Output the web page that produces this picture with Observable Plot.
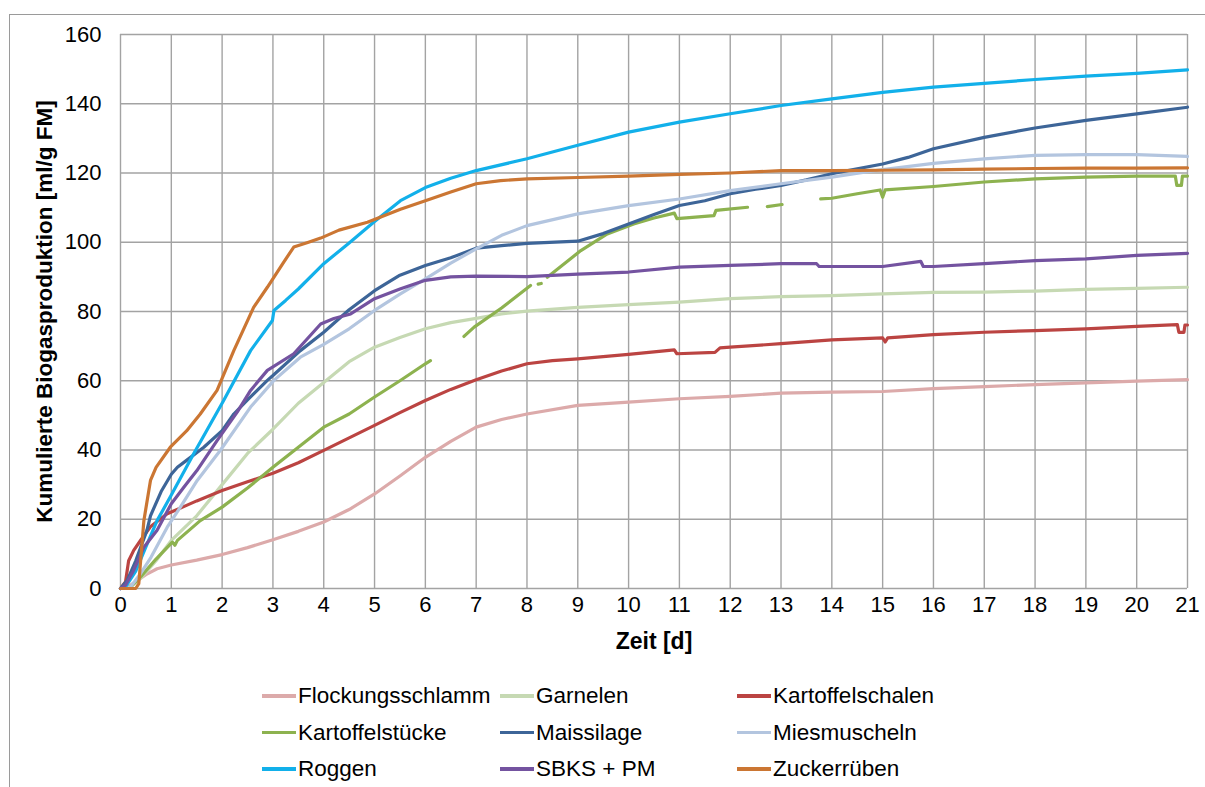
<!DOCTYPE html>
<html>
<head>
<meta charset="utf-8">
<script src="https://cdn.jsdelivr.net/npm/d3@7"></script>
<script src="https://cdn.jsdelivr.net/npm/@observablehq/plot@0.6"></script>
<style>
  html, body { margin: 0; padding: 0; background: #fff; overflow: hidden; }
  body { width: 1205px; height: 787px; position: relative; font-family: "Liberation Sans", Arial, sans-serif; }
  #frame { position: absolute; left: 9px; top: 14px; width: 1400px; height: 1000px; border: 1.5px solid #9a9a9a; box-sizing: border-box; }
  #chart { position: absolute; left: 0; top: 0; }
  #legend { position: absolute; left: 0; top: 660px; width: 1205px; height: 127px; }
  .item { position: absolute; display: flex; align-items: center; font-size: 22.5px; color: #000; white-space: nowrap; }
  .sw { width: 34px; height: 3.5px; margin-right: 2px; }
</style>
</head>
<body>
<div id="frame"></div>
<div id="chart"></div>
<div id="legend"></div>
<script>
// Cumulative biogas production per substrate, [day, ml/g FM]; null marks a gap in the record
const flockungsschlamm = [[0,0],[0.15,0.5],[0.3,2],[0.5,4],[0.72,5.7],[1,6.8],[1.5,8.2],[2,9.8],[2.5,11.8],[3,14.1],[3.5,16.5],[4,19.2],[4.5,22.8],[5,27.3],[5.5,32.5],[6,37.9],[6.5,42.5],[7,46.6],[7.5,48.8],[8,50.4],[9,52.9],[10,53.8],[11,54.8],[12,55.5],[13,56.4],[14,56.7],[15,56.9],[16,57.7],[17,58.3],[18,58.9],[19,59.4],[20,59.9],[21,60.3]];
const garnelen = [[0,0],[0.2,0.5],[0.4,3],[0.7,8],[1,13.9],[1.5,21],[2,30],[2.5,39],[3,46],[3.5,53.5],[4,59.5],[4.5,65.5],[5,69.7],[5.5,72.5],[6,75],[6.5,76.8],[7,78],[7.5,79.3],[8,80.1],[9,81.2],[10,82],[11,82.7],[12,83.7],[13,84.3],[14,84.6],[15,85.1],[16,85.5],[17,85.6],[18,85.9],[19,86.4],[20,86.7],[21,87]];
const kartoffelschalen = [[0,0],[0.1,2],[0.16,8],[0.26,11],[0.4,14],[0.6,18],[0.92,21.6],[1.3,24],[1.5,25.3],[2,28.3],[2.5,30.8],[3,33.3],[3.5,36.3],[4,39.9],[4.5,43.5],[5,47.1],[5.5,50.8],[6,54.3],[6.5,57.5],[7,60.3],[7.5,62.8],[8,64.9],[8.5,65.8],[9,66.3],[10,67.6],[10.9,68.9],[10.95,67.8],[11.7,68.2],[11.8,69.5],[12,69.7],[13,70.7],[14,71.8],[15,72.4],[15.05,71.2],[15.1,72.4],[16,73.3],[17,74],[18,74.5],[19,75],[20,75.7],[20.8,76.2],[20.83,74],[20.93,74],[20.95,76.1],[21,76.1]];
const kartoffelstuecke = [[0,0],[0.2,0.5],[0.39,3.3],[0.7,8.5],[1.02,13.4],[1.07,12.5],[1.12,13.9],[1.57,19.6],[2,23.5],[2.5,29],[3,35],[3.5,40.8],[4,46.6],[4.5,50.4],[5,55.3],[5.5,60],[6,64.9],[6.1,65.8],null,
  [6.76,72.8],[6.96,75.5],[7.5,81],[8.07,87.5],null,[8.22,87.9],[8.28,88.1],null,
  [8.4,89.9],[9.06,97.6],[9.58,102.4],[10.1,105.3],[10.5,107],[10.9,108.4],[10.95,106.8],[11.68,107.7],[11.72,109.2],[12.34,110.1],null,
  [12.73,110.3],[13.02,110.9],null,
  [13.78,112.5],[14,112.7],[14.5,114],[14.95,115.1],[15,113],[15.05,115.1],[16,116.1],[17,117.4],[18,118.3],[19,118.8],[20,119.1],[20.76,119.1],[20.79,116.4],[20.88,116.4],[20.9,119.1],[21,119.1]];
const maissilage = [[0,0],[0.13,2.3],[0.3,8],[0.52,16.8],[0.59,21],[0.8,28],[1,33],[1.12,35],[1.3,37],[1.64,40.8],[2,45.6],[2.23,50.4],[2.5,54.5],[2.89,60.1],[3,61.5],[3.54,68.7],[4,74],[4.5,80.5],[5,86],[5.5,90.5],[6,93.3],[6.5,95.5],[7,98.3],[7.5,99],[8,99.7],[9,100.3],[9.5,102.5],[10,105.3],[10.5,108],[11,110.6],[11.5,112],[12,114],[12.5,115.3],[13,116.4],[13.5,118],[14,119.8],[15,122.6],[15.5,124.5],[16,127],[17,130.3],[18,133],[19,135.2],[20,137.1],[21,139]];
const miesmuscheln = [[0,0],[0.2,0.5],[0.39,4.2],[0.6,9],[0.92,17.7],[1.2,24],[1.51,31.2],[1.97,40],[2.56,52.4],[3.02,60.1],[3.54,66.8],[4,70.5],[4.5,75],[5,80.3],[5.5,85],[6,89.4],[6.5,94],[7,98.1],[7.5,102],[8,104.8],[9,108.2],[10,110.6],[11,112.5],[12,114.9],[13,116.9],[14,118.8],[15,121],[16,122.8],[17,124.1],[18,125.1],[19,125.3],[20,125.3],[21,124.8]];
const roggen = [[0,0],[0.1,0.5],[0.3,5],[0.5,12],[0.72,19.6],[1,27],[1.44,38.9],[2.03,54.3],[2.56,68.7],[2.99,77.4],[3.02,80.3],[3.25,83.2],[3.5,86.5],[4,93.8],[4.5,99.8],[5,106],[5.51,112],[6,115.8],[6.5,118.5],[7,120.7],[8,124.1],[9,128],[10,131.8],[11,134.7],[12,137.1],[13,139.5],[14,141.4],[15,143.3],[16,144.8],[17,145.9],[18,147],[19,148],[20,148.8],[21,149.8]];
const sbksPm = [[0,0],[0.1,1],[0.25,5],[0.46,11.9],[0.72,16.8],[1,24.5],[1.25,29.3],[1.5,34],[1.9,42.7],[2.3,51],[2.56,57.2],[2.89,63],[3.41,67.8],[3.94,76.4],[4.2,78],[4.53,79.3],[5,83.7],[5.5,86.5],[6,89],[6.5,90],[7,90.2],[8,90.1],[9,90.8],[10,91.4],[11,92.8],[12,93.3],[13,93.8],[13.7,93.8],[13.75,93],[14,93],[15,93],[15.75,94.5],[15.8,93],[16,93],[17,93.8],[18,94.7],[19,95.2],[20,96.2],[21,96.8]];
const zuckerrueben = [[0,0],[0.3,0],[0.36,1.4],[0.46,19.6],[0.59,31.2],[0.7,35],[0.98,40.8],[1.3,45.5],[1.57,50.4],[1.9,57.2],[2.23,68.7],[2.62,81.2],[2.89,87],[3.2,94],[3.41,98.6],[3.7,100],[3.94,101.2],[4.3,103.5],[4.86,105.8],[5.51,109.5],[6,112],[6.5,114.5],[7,116.9],[7.48,117.8],[8,118.3],[9,118.7],[10,119.1],[11,119.6],[12,120],[13,120.7],[14,120.7],[15,120.8],[16,120.9],[17,121.1],[18,121.3],[19,121.4],[20,121.4],[21,121.5]];

const seriesNames = ["Flockungsschlamm", "Garnelen", "Kartoffelschalen", "Kartoffelstücke", "Maissilage", "Miesmuscheln", "Roggen", "SBKS + PM", "Zuckerrüben"];
const seriesValues = [flockungsschlamm, garnelen, kartoffelschalen, kartoffelstuecke, maissilage, miesmuscheln, roggen, sbksPm, zuckerrueben];
const seriesColors = ["#dcaaaa", "#c6d9b3", "#bb4442", "#8db24f", "#3d6598", "#b3c5df", "#12b0ea", "#7453a0", "#cb7633"];

const xTicks = d3.range(0, 22, 1);
const yTicks = d3.range(0, 161, 20);
const xLabel = "Zeit [d]";
const yLabel = "Kumulierte Biogasproduktion [ml/g FM]";

const font = "'Liberation Sans', Arial, sans-serif";
const gridColor = "#a3a3a3";

// one row per point; a null entry becomes an undefined value and breaks the line
const rows = seriesNames.map((name, i) =>
  seriesValues[i].map(p => p ? {name, day: p[0], value: p[1]} : {name, day: undefined, value: undefined})
);

const chart = Plot.plot({
  width: 1205,
  height: 660,
  marginLeft: 120,
  marginRight: 18,
  marginTop: 34,
  marginBottom: 72,
  style: {fontFamily: font, fontSize: "22px", color: "#000", background: "transparent", overflow: "visible"},
  x: {domain: [0, 21]},
  y: {domain: [0, 160]},
  marks: [
    Plot.gridX(xTicks, {stroke: gridColor, strokeOpacity: 1, strokeWidth: 1.4}),
    Plot.gridY(yTicks, {stroke: gridColor, strokeOpacity: 1, strokeWidth: 1.4}),
    Plot.axisX({ticks: xTicks, tickSize: 0, tickPadding: 8, label: null, fontSize: 22}),
    Plot.axisY({ticks: yTicks, tickSize: 0, tickPadding: 19, label: null, fontSize: 22}),
    ...rows.map((data, i) => Plot.line(data, {
      x: "day", y: "value", stroke: seriesColors[i], strokeWidth: 3.2, curve: "linear"
    })),
    Plot.text([xLabel], {frameAnchor: "bottom", dy: 60, fontWeight: "bold", fontSize: 23, fill: "#000", textAnchor: "middle"}),
    Plot.text([yLabel], {frameAnchor: "left", dx: -76, rotate: -90, fontWeight: "bold", fontSize: 22.5, fill: "#000", textAnchor: "middle"})
  ]
});
document.getElementById("chart").appendChild(chart);

// legend below the plot: three columns, filled row by row
const legend = document.getElementById("legend");
const colLeft = [262, 500, 737];
seriesNames.forEach((name, i) => {
  const item = document.createElement("div");
  item.className = "item";
  item.style.left = colLeft[i % 3] + "px";
  item.style.top = (23 + Math.floor(i / 3) * 36.5) + "px";
  const sw = document.createElement("span");
  sw.className = "sw";
  sw.style.background = seriesColors[i];
  const label = document.createElement("span");
  label.textContent = name;
  item.appendChild(sw);
  item.appendChild(label);
  legend.appendChild(item);
});
</script>
</body>
</html>
